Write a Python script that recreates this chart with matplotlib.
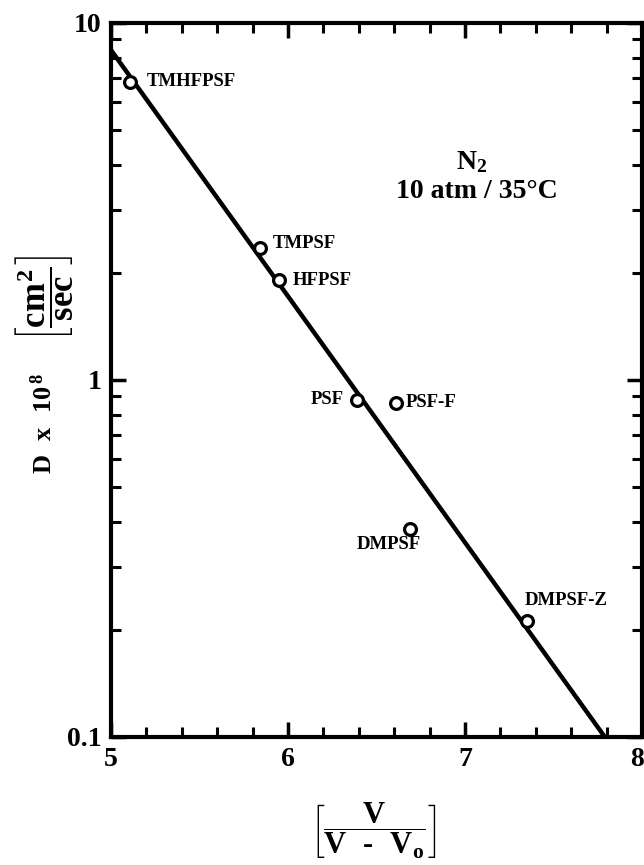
import matplotlib
matplotlib.use("Agg")
import matplotlib.pyplot as plt
import matplotlib.transforms as mtransforms
from matplotlib.ticker import FixedLocator, FixedFormatter, LogLocator, MultipleLocator, NullFormatter

# ---- data ----
polymers = ["TMHFPSF", "TMPSF", "HFPSF", "PSF", "PSF-F", "DMPSF", "DMPSF-Z"]
v_ratio = [5.11, 5.84, 5.95, 6.39, 6.61, 6.69, 7.35]
diffusivity = [6.84, 2.34, 1.90, 0.88, 0.863, 0.383, 0.211]

fit_x = [5.0, 7.79]
fit_y = [8.4, 0.1]

x_ticks = [5, 6, 7, 8]
x_tick_labels = ["5", "6", "7", "8"]
y_ticks = [0.1, 1, 10]
y_tick_labels = ["0.1", "1", "10"]

# ---- style ----
SERIF = "Liberation Serif"
plt.rcParams["font.family"] = [SERIF, "DejaVu Serif"]
plt.rcParams["font.weight"] = "bold"
plt.rcParams["mathtext.fontset"] = "custom"
plt.rcParams["mathtext.rm"] = SERIF + ":bold"
plt.rcParams["mathtext.it"] = SERIF + ":bold"
plt.rcParams["mathtext.bf"] = SERIF + ":bold"

# label offsets in pixels (dx, dy) and alignment
offsets_px = [(16, 0, "left"), (13, 5, "left"), (14, 0, "left"), (-13, 0, "right"),
              (10, 0, "left"), (-21, -16, "center"), (39, 21, "center")]

W, H, DPI = 644, 865, 100
fig = plt.figure(figsize=(W / DPI, H / DPI), dpi=DPI)
L, R, T, B = 111, 642, 23, 737
ax = fig.add_axes([L / W, 1 - B / H, (R - L) / W, (B - T) / H])

ax.set_yscale("log")
ax.set_xlim(5, 8)
ax.set_ylim(0.1, 10)

ax.plot(fit_x, fit_y, color="black", lw=3.2, solid_capstyle="butt", zorder=2)
ax.plot(v_ratio, diffusivity, linestyle="none", marker="o", ms=8.5, mew=2.3,
        mfc="white", mec="black", zorder=3)

px2pt = 72.0 / DPI
for name, x, y, (dx, dy, ha) in zip(polymers, v_ratio, diffusivity, offsets_px):
    ax.annotate(name, xy=(x, y), xytext=(dx * px2pt, dy * px2pt), textcoords="offset points",
                ha=ha, va="center", fontsize=13.5, fontweight="bold", family=SERIF)

# ticks
ax.xaxis.set_major_locator(FixedLocator(x_ticks))
ax.xaxis.set_major_formatter(FixedFormatter(x_tick_labels))
ax.xaxis.set_minor_locator(MultipleLocator(0.2))
ax.yaxis.set_major_locator(FixedLocator(y_ticks))
ax.yaxis.set_major_formatter(FixedFormatter(y_tick_labels))
ax.yaxis.set_minor_locator(LogLocator(base=10, subs=[2, 3, 4, 5, 6, 7, 8, 9]))
ax.yaxis.set_minor_formatter(NullFormatter())

ax.tick_params(which="both", direction="in", top=True, right=True, color="black")
ax.tick_params(which="major", length=11, width=2.5, labelsize=20, pad=7)
ax.tick_params(which="minor", length=7, width=2.2)
for lab in ax.get_xticklabels() + ax.get_yticklabels():
    lab.set_fontweight("bold")
    lab.set_family(SERIF)
for s in ax.spines.values():
    s.set_linewidth(3.0)

fig.canvas.draw()
last = ax.get_xticklabels()[-1]
last.set_transform(last.get_transform() + mtransforms.ScaledTranslation(-5 / DPI, 0, fig.dpi_scale_trans))

# annotation
ax.text((472 - L) / (R - L), (B - 162) / (B - T), r"N$_2$", transform=ax.transAxes,
        ha="center", va="center", fontsize=20, fontweight="bold")
ax.text((477 - L) / (R - L), (B - 192) / (B - T), "10 atm / 35°C", transform=ax.transAxes,
        ha="center", va="center", fontsize=20, fontweight="bold")

# axis labels
fig.text(44 / W, 1 - 423 / H, r"$D\ \ x\ \ 10^{\,8}$",
         rotation=90, ha="center", va="center", fontsize=19)
fig.text(44 / W, 1 - 298 / H, r"$\left[\dfrac{cm^{2}}{sec}\right]$",
         rotation=90, ha="center", va="center", fontsize=25)
fig.text(373 / W, 1 - 831 / H, r"$\left[\dfrac{V}{V\ \ \text{-}\ \ V_o}\right]$",
         ha="center", va="center", fontsize=22)

fig.savefig("out.png", dpi=DPI)
